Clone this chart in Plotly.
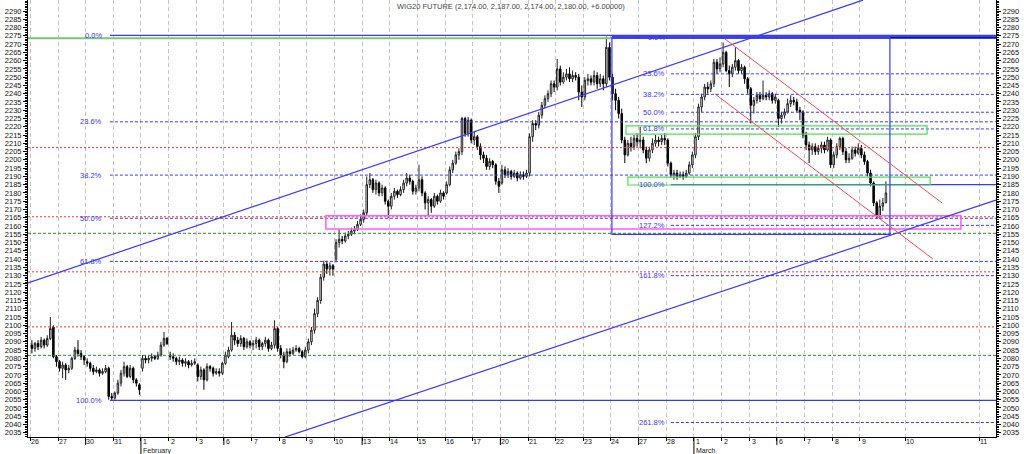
import plotly.graph_objects as go

# ---------------- data (hourly bars, 9 per session) ----------------
opens = [
    2088, 2086, 2089, 2087, 2091, 2088, 2092, 2099, 2081,
    2078, 2074, 2076, 2073, 2074, 2080, 2085, 2083, 2081,
    2078, 2077, 2074, 2072, 2073, 2071, 2072, 2074, 2057,
    2056, 2059, 2065, 2071, 2075, 2069, 2074, 2067, 2064,
    2074, 2080, 2079, 2080, 2081, 2080, 2082, 2088, 2092,
    2082, 2081, 2080, 2078, 2079, 2077, 2078, 2076, 2077,
    2076, 2069, 2073, 2067, 2075, 2074, 2071, 2072, 2071,
    2077, 2081, 2085, 2094, 2091, 2089, 2092, 2087, 2090,
    2088, 2089, 2091, 2087, 2089, 2091, 2086, 2088, 2098,
    2086, 2082, 2078, 2084, 2083, 2085, 2086, 2084, 2081,
    2085, 2090, 2097, 2107, 2115, 2129, 2137, 2134, 2136,
    2140, 2150, 2152, 2151, 2154, 2155, 2157, 2158, 2161,
    2164, 2168, 2185, 2188, 2182, 2186, 2180, 2183, 2175,
    2172, 2178, 2181, 2179, 2182, 2186, 2189, 2187, 2181,
    2183, 2188, 2180, 2174, 2176, 2172, 2178, 2175, 2180,
    2180, 2185, 2194, 2198, 2203, 2205, 2225, 2216, 2224,
    2212, 2214, 2208, 2203, 2201, 2196, 2199, 2197, 2187,
    2186, 2194, 2191, 2193, 2190, 2192, 2189, 2191, 2190,
    2192, 2214, 2222, 2221, 2227, 2233, 2237, 2240, 2246,
    2244, 2255, 2247, 2250, 2252, 2249, 2251, 2250, 2241,
    2238, 2248, 2249, 2247, 2251, 2246, 2249, 2246, 2268,
    2250, 2240, 2236, 2228, 2212, 2203, 2210, 2208, 2213,
    2211, 2212, 2206, 2201, 2206, 2210, 2212, 2211, 2213,
    2212, 2198, 2191, 2192, 2190, 2191, 2190, 2192, 2197,
    2203, 2214, 2232, 2238, 2244, 2243, 2246, 2259, 2255,
    2258, 2265, 2254, 2252, 2256, 2260, 2254, 2256, 2249,
    2243, 2233, 2236, 2239, 2237, 2239, 2238, 2240, 2236,
    2236, 2225, 2227, 2229, 2234, 2236, 2235, 2230, 2229,
    2215, 2209, 2206, 2208, 2205, 2207, 2209, 2206, 2212,
    2197, 2203, 2208, 2213, 2205, 2200, 2201, 2206, 2204,
    2207, 2203, 2199, 2192, 2186, 2174, 2166, 2172, 2174,
]
highs = [
    2091, 2090, 2091, 2093, 2092, 2094, 2105, 2100, 2082,
    2079, 2078, 2077, 2076, 2081, 2087, 2091, 2085, 2082,
    2080, 2078, 2076, 2075, 2074, 2074, 2076, 2075, 2059,
    2060, 2067, 2073, 2078, 2076, 2076, 2075, 2068, 2065,
    2082, 2082, 2082, 2083, 2082, 2084, 2090, 2096, 2093,
    2084, 2083, 2081, 2081, 2080, 2080, 2079, 2079, 2080,
    2077, 2075, 2074, 2077, 2076, 2075, 2074, 2074, 2078,
    2084, 2087, 2102, 2096, 2093, 2094, 2093, 2092, 2091,
    2091, 2093, 2092, 2090, 2093, 2092, 2090, 2103, 2099,
    2088, 2084, 2086, 2086, 2087, 2088, 2087, 2085, 2087,
    2092, 2099, 2110, 2117, 2131, 2139, 2139, 2138, 2137,
    2152, 2158, 2154, 2156, 2157, 2159, 2160, 2163, 2167,
    2170, 2190, 2192, 2189, 2188, 2187, 2185, 2184, 2176,
    2180, 2183, 2182, 2184, 2188, 2192, 2191, 2188, 2185,
    2197, 2190, 2181, 2178, 2177, 2180, 2179, 2182, 2181,
    2187, 2196, 2200, 2205, 2207, 2226, 2226, 2226, 2225,
    2217, 2215, 2210, 2205, 2203, 2201, 2200, 2198, 2189,
    2197, 2196, 2195, 2194, 2194, 2193, 2193, 2193, 2194,
    2216, 2224, 2224, 2229, 2235, 2239, 2242, 2248, 2248,
    2261, 2257, 2253, 2255, 2256, 2254, 2253, 2252, 2245,
    2250, 2252, 2251, 2254, 2253, 2252, 2251, 2274.5, 2271,
    2252, 2243, 2238, 2231, 2214, 2212, 2214, 2215, 2216,
    2220, 2214, 2208, 2208, 2213, 2215, 2214, 2215, 2216,
    2213, 2199, 2194, 2194, 2193, 2193, 2194, 2199, 2205,
    2216, 2234, 2240, 2246, 2247, 2248, 2261, 2261, 2262,
    2271, 2266, 2257, 2258, 2268, 2261, 2258, 2257, 2250,
    2244, 2238, 2241, 2241, 2248, 2241, 2242, 2241, 2240,
    2237, 2229, 2231, 2237, 2239, 2238, 2237, 2232, 2230,
    2217, 2211, 2210, 2210, 2209, 2211, 2211, 2214, 2213,
    2205, 2210, 2214, 2214, 2207, 2204, 2208, 2208, 2210,
    2209, 2205, 2200, 2194, 2187, 2175, 2176, 2177, 2187,
]
lows = [
    2083, 2084, 2085, 2086, 2086, 2087, 2091, 2080, 2075,
    2072, 2068, 2067, 2071, 2073, 2079, 2081, 2079, 2076,
    2075, 2072, 2070, 2071, 2069, 2070, 2071, 2055, 2054.5,
    2055, 2058, 2063, 2069, 2068, 2068, 2065, 2063, 2058,
    2072, 2077, 2077, 2078, 2079, 2079, 2081, 2087, 2088,
    2079, 2078, 2076, 2076, 2075, 2075, 2074, 2075, 2076,
    2066, 2067, 2061, 2066, 2072, 2069, 2070, 2069, 2070,
    2076, 2080, 2084, 2088, 2087, 2087, 2085, 2086, 2086,
    2085, 2086, 2085, 2085, 2087, 2084, 2085, 2086, 2084,
    2080, 2074, 2077, 2081, 2082, 2084, 2083, 2080, 2080,
    2083, 2088, 2095, 2105, 2113, 2127, 2131, 2130, 2130,
    2138, 2147, 2149, 2150, 2152, 2154, 2155, 2157, 2160,
    2162, 2166, 2183, 2180, 2179, 2178, 2178, 2173, 2165,
    2170, 2176, 2177, 2178, 2180, 2184, 2185, 2179, 2179,
    2181, 2178, 2170, 2166, 2168, 2171, 2173, 2174, 2176,
    2179, 2184, 2192, 2197, 2200, 2203, 2214, 2214, 2210,
    2209, 2206, 2200, 2198, 2194, 2194, 2195, 2185, 2180,
    2185, 2189, 2189, 2188, 2189, 2187, 2188, 2188, 2189,
    2190, 2211, 2218, 2219, 2225, 2231, 2235, 2238, 2241,
    2242, 2245, 2246, 2248, 2247, 2247, 2248, 2236, 2232,
    2236, 2245, 2245, 2245, 2243, 2244, 2242, 2244, 2248,
    2236, 2230, 2225, 2210, 2198, 2202, 2205, 2206, 2208,
    2207, 2204, 2198, 2199, 2204, 2208, 2208, 2209, 2209,
    2196, 2189, 2188, 2188, 2189, 2188, 2189, 2191, 2195,
    2201, 2212, 2229, 2236, 2240, 2241, 2244, 2252, 2253,
    2256, 2253, 2244, 2250, 2254, 2252, 2252, 2246, 2240,
    2222, 2228, 2234, 2235, 2236, 2236, 2236, 2234, 2234,
    2220, 2222, 2225, 2228, 2232, 2233, 2229, 2224, 2213,
    2206, 2198, 2203, 2203, 2203, 2204, 2204, 2205, 2195,
    2195, 2201, 2206, 2203, 2198, 2198, 2200, 2202, 2203,
    2201, 2197, 2190, 2184, 2172, 2164.5, 2165, 2169, 2174,
]
closes = [
    2086, 2089, 2087, 2091, 2088, 2092, 2098, 2081, 2078,
    2074, 2076, 2073, 2074, 2080, 2085, 2083, 2081, 2079,
    2077, 2074, 2072, 2073, 2071, 2072, 2074, 2057, 2056,
    2059, 2065, 2071, 2075, 2069, 2074, 2067, 2065, 2061,
    2080, 2079, 2080, 2081, 2080, 2082, 2088, 2092, 2089,
    2081, 2080, 2078, 2079, 2077, 2078, 2076, 2077, 2078,
    2069, 2073, 2067, 2075, 2074, 2071, 2072, 2071, 2077,
    2082, 2085, 2094, 2091, 2089, 2092, 2087, 2090, 2088,
    2089, 2091, 2087, 2089, 2091, 2086, 2088, 2098, 2086,
    2082, 2078, 2084, 2083, 2085, 2086, 2084, 2081, 2085,
    2090, 2097, 2107, 2115, 2129, 2137, 2134, 2136, 2134,
    2150, 2152, 2151, 2154, 2155, 2157, 2158, 2161, 2164,
    2168, 2185, 2188, 2182, 2186, 2180, 2183, 2175, 2172,
    2178, 2181, 2179, 2182, 2186, 2189, 2187, 2181, 2183,
    2188, 2180, 2174, 2176, 2172, 2178, 2175, 2180, 2178,
    2185, 2194, 2198, 2203, 2205, 2225, 2216, 2224, 2212,
    2214, 2208, 2203, 2201, 2196, 2199, 2197, 2187, 2184,
    2194, 2191, 2193, 2190, 2192, 2189, 2191, 2190, 2192,
    2214, 2222, 2221, 2227, 2233, 2237, 2240, 2246, 2244,
    2255, 2247, 2250, 2252, 2249, 2251, 2250, 2241, 2238,
    2248, 2249, 2247, 2251, 2246, 2249, 2246, 2268, 2250,
    2240, 2236, 2228, 2212, 2203, 2210, 2208, 2213, 2211,
    2212, 2206, 2201, 2206, 2210, 2212, 2211, 2213, 2212,
    2198, 2191, 2192, 2190, 2191, 2190, 2192, 2197, 2203,
    2214, 2232, 2238, 2244, 2243, 2246, 2259, 2255, 2258,
    2265, 2254, 2252, 2256, 2260, 2254, 2256, 2249, 2243,
    2233, 2236, 2239, 2237, 2239, 2238, 2240, 2236, 2238,
    2225, 2227, 2229, 2234, 2236, 2235, 2230, 2229, 2215,
    2209, 2206, 2208, 2205, 2207, 2209, 2206, 2212, 2197,
    2203, 2208, 2213, 2205, 2200, 2201, 2206, 2204, 2207,
    2203, 2199, 2192, 2186, 2174, 2166, 2172, 2174, 2180,
]

# session start positions (bar index) and their labels
day_pos = [0, 9, 18, 27, 36, 45, 54, 63, 72, 81, 90, 99, 108, 117, 126, 135,
           144, 153, 162, 171, 180, 189, 198, 207, 216, 225, 234, 243, 252,
           261, 270, 285, 308.8]
day_text = ["26", "27", "30", "31", "1", "2", "3", "6", "7", "8", "9", "10",
            "13", "14", "15", "16", "17", "20", "21", "22", "23", "24", "27",
            "28", "1", "2", "3", "6", "7", "8", "9", "10", "11"]
week_pos = [18, 63, 108, 153, 198, 243]
month_pos = [36, 216]
month_text = ["February", "March"]

# price levels
red_levels = [2207.4, 2165.6, 2132.3, 2099.0]
green_levels = [2155.6, 2081.8]
fib1_levels = [2275.3, 2223.0, 2190.8, 2164.7, 2138.6, 2054.6]
fib1_text = ["0.0%", "23.6%", "38.2%", "50.0%", "61.8%", "100.0%"]
fib2_levels = [2274.0, 2252.0, 2239.6, 2228.8, 2218.7, 2185.0, 2160.4, 2130.0, 2041.2]
fib2_text = ["0.0%", "23.6%", "38.2%", "50.0%", "61.8%", "100.0%", "127.2%", "161.8%", "261.8%"]
top_green = 2273.6

# drawn objects (bar index, price)
upper_blue = [(-0.77, 2125.6), (271.0, 2296.6)]
lower_blue = [(82.9, 2032.4), (314.3, 2175.7)]
red_up = [(226.1, 2273.1), (296.8, 2173.9)]
red_dn = [(222.9, 2239.8), (293.8, 2140.1)]
box = (189.3, 279.8, 2155.0, 2274.0)
green_box1 = (193.9, 291.9, 2215.6, 2220.5)
green_box2 = (194.5, 292.9, 2184.8, 2189.6)
pink_box = (96.2, 302.9, 2158.2, 2166.2)

XMIN, XMAX = -0.765, 314.33
YMIN, YMAX = 2032.45, 2296.65
FIB1_X0, FIB1_LBL = 25.9, 23.9
FIB2_X0, FIB2_LBL = 208.5, 207.2

BLUE = "#3838ff"
FONT = "Liberation Sans, Arial, sans-serif"

xs = [i + 0.5 for i in range(len(closes))]

fig = go.Figure()
fig.add_trace(go.Candlestick(
    x=xs, open=opens, high=highs, low=lows, close=closes,
    increasing=dict(line=dict(color="#202020", width=1), fillcolor="white"),
    decreasing=dict(line=dict(color="#000000", width=1), fillcolor="black"),
    whiskerwidth=0, hoverinfo="skip", showlegend=False,
))
fig.add_trace(go.Scatter(x=[xs[0]], y=[closes[0]], yaxis="y2", mode="markers",
                         marker=dict(opacity=0), hoverinfo="skip", showlegend=False))

shapes = []


def hline(y, x0, x1, color, width=1, dash="solid"):
    shapes.append(dict(type="line", xref="x", yref="y", x0=x0, x1=x1, y0=y, y1=y,
                       line=dict(color=color, width=width, dash=dash)))


for v in red_levels:
    hline(v, XMIN, XMAX, "#ff3030", 1, "2px,2px")
for v in green_levels:
    hline(v, XMIN, XMAX, "#2a8a2a", 1, "3px,2px")
hline(top_green, XMIN, box[0], "#7cc47c", 2)

for v, t in zip(fib1_levels, fib1_text):
    solid = t in ("0.0%", "100.0%")
    hline(v, FIB1_X0, XMAX, BLUE, 1.2 if solid else 1, "solid" if solid else "3px,2px")

for v, t in zip(fib2_levels, fib2_text):
    if t == "0.0%":
        hline(v, box[0], XMAX, "#0010c0", 2.5)
    elif t == "100.0%":
        hline(v, FIB2_X0, XMAX, BLUE, 1.2)
    else:
        hline(v, FIB2_X0, XMAX, BLUE, 1, "3px,2px")


def rect(b, color, width=1):
    shapes.append(dict(type="rect", xref="x", yref="y", x0=b[0], x1=b[1], y0=b[2], y1=b[3],
                       line=dict(color=color, width=width), fillcolor="rgba(0,0,0,0)"))


rect(green_box1, "#4ee04e", 1.2)
rect(green_box2, "#4ee04e", 1.2)
rect(pink_box, "#ff5cff", 1.5)
rect(box, BLUE, 1.2)


def seg(p, color, width=1.2):
    shapes.append(dict(type="line", xref="x", yref="y", x0=p[0][0], y0=p[0][1],
                       x1=p[1][0], y1=p[1][1], line=dict(color=color, width=width)))


seg(upper_blue, BLUE, 1.2)
seg(lower_blue, BLUE, 1.2)
seg(red_up, "#ff4a4a", 1)
seg(red_dn, "#ff4a4a", 1)

# longer ticks for weeks and months
for p in week_pos:
    shapes.append(dict(type="line", xref="x", yref="paper", x0=p, x1=p, y0=0, y1=-8 / 437,
                       line=dict(color="black", width=1)))
for p in month_pos:
    shapes.append(dict(type="line", xref="x", yref="paper", x0=p, x1=p, y0=0, y1=-17 / 437,
                       line=dict(color="black", width=1)))

annotations = []
for v, t in zip(fib1_levels, fib1_text):
    annotations.append(dict(x=FIB1_LBL, y=v, xref="x", yref="y", text=t, showarrow=False,
                            xanchor="right", yanchor="middle",
                            font=dict(size=7.5, color=BLUE, family=FONT)))
for v, t in zip(fib2_levels, fib2_text):
    annotations.append(dict(x=FIB2_LBL, y=v, xref="x", yref="y", text=t, showarrow=False,
                            xanchor="right", yanchor="middle",
                            font=dict(size=7.5, color=BLUE, family=FONT)))
# day labels just under the axis
for p, t in zip(day_pos, day_text):
    annotations.append(dict(x=p, y=0, xref="x", yref="paper", text=t, showarrow=False,
                            xanchor="center", yanchor="middle", xshift=4.5, yshift=-4.6,
                            borderpad=0,
                            font=dict(size=7, color="#111", family=FONT)))
for p, t in zip(month_pos, month_text):
    annotations.append(dict(x=p, y=0, xref="x", yref="paper", text=t, showarrow=False,
                            xanchor="left", yanchor="middle", yshift=-13.8, xshift=1,
                            borderpad=0,
                            font=dict(size=7, color="#222", family=FONT)))
annotations.append(dict(x=0.499, y=1, xref="paper", yref="paper",
                        text="WIG20 FUTURE (2,174.00, 2,187.00, 2,174.00, 2,180.00, +6.00000)",
                        showarrow=False, xanchor="center", yanchor="top", yshift=0,
                        font=dict(size=7.5, color="#444", family=FONT)))

ytick_vals = list(range(2035, 2291, 5))
yax = dict(range=[YMIN, YMAX], tickvals=ytick_vals, ticktext=[str(v) for v in ytick_vals],
           ticks="outside", ticklen=4, tickcolor="black", showline=True, linecolor="black",
           linewidth=1, showgrid=False, zeroline=False, fixedrange=True,
           tickfont=dict(size=7.5, color="#111", family=FONT),
           minor=dict(dtick=1, ticks="outside", ticklen=2, tickcolor="black", showgrid=False))

fig.update_layout(
    width=1024, height=454,
    margin=dict(l=28, r=28, t=0, b=17, pad=0),
    paper_bgcolor="white", plot_bgcolor="white",
    showlegend=False,
    xaxis=dict(range=[XMIN, XMAX], tickvals=day_pos, ticktext=day_text,
               showticklabels=False,
               ticks="outside", ticklen=3, tickcolor="black", showline=True,
               linecolor="black", linewidth=1, showgrid=True, gridcolor="#c4c4c4",
               griddash="4px,3px", gridwidth=1, zeroline=False,
               rangeslider=dict(visible=False)),
    yaxis=dict(side="left", **yax),
    yaxis2=dict(side="right", overlaying="y", anchor="x", **yax),
    shapes=shapes,
    annotations=annotations,
)

fig.write_html("out.html")
